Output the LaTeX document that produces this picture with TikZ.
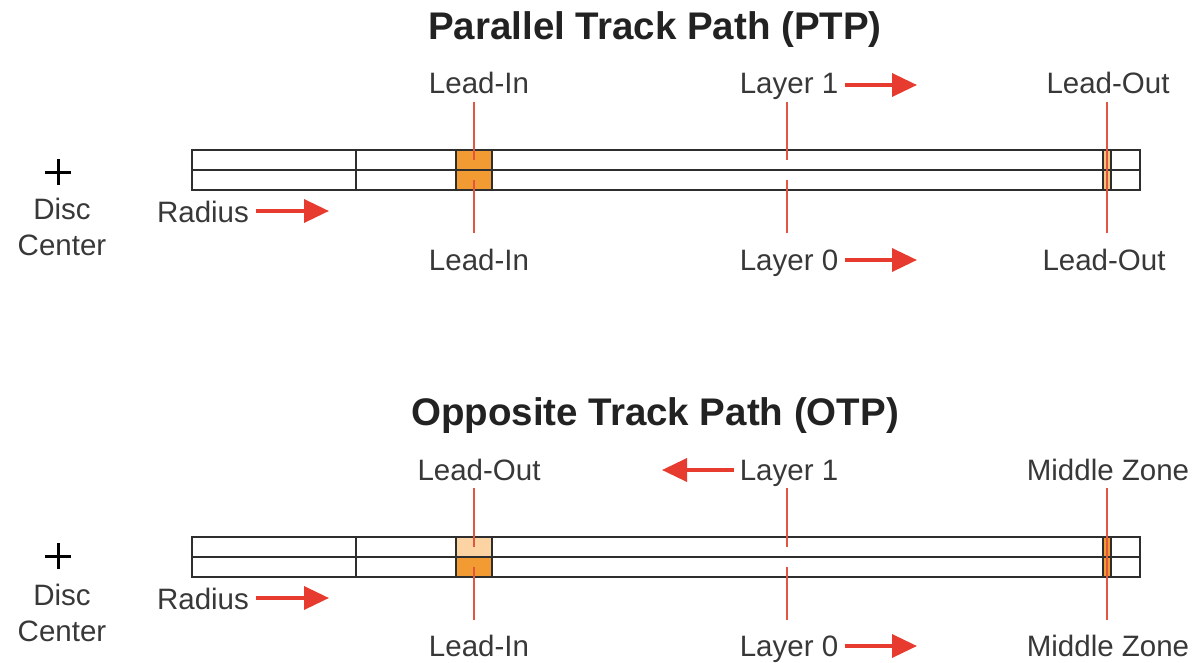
\documentclass[tikz,border=0pt]{standalone}
\usepackage{fontspec}
\setmainfont{Liberation Sans}
\usetikzlibrary{arrows.meta}
\definecolor{txt}{HTML}{383838}
\definecolor{ttl}{HTML}{222222}
\definecolor{barc}{HTML}{2E2E2E}
\definecolor{redl}{HTML}{E2553E}
\definecolor{arrc}{HTML}{E63B2E}
\definecolor{orng}{HTML}{F39B33}
\definecolor{lorng}{HTML}{FCD3A2}
\definecolor{yorng}{HTML}{F7C37A}
\tikzset{
  lbl/.style={inner sep=0pt, anchor=base, text=txt, font=\fontsize{29.5}{32}\selectfont},
  ttlstyle/.style={inner sep=0pt, anchor=base, text=ttl, font=\fontsize{38.5}{42}\selectfont\bfseries},
  barline/.style={draw=barc, line width=2.2pt},
  redline/.style={draw=redl, line width=1.9pt},
  arr/.style={draw=arrc, line width=3.6pt, -{Triangle[length=25pt,width=23pt]}},
  plus/.style={draw=black, line width=3pt},
}
\begin{document}
\begin{tikzpicture}[x=1pt,y=-1pt]
\useasboundingbox (0,0) rectangle (1197,662);

% ---------------- PTP ----------------
\node[ttlstyle] (t1) at (655,39) {Parallel Track Path (PTP)};

% fills
\fill[orng] (456,150) rectangle (492,190);
\fill[yorng] (1103,150) rectangle (1111,190);
% bar
\draw[barline] (192,150) rectangle (1140,190);
\draw[barline] (192,170) -- (1140,170);
\draw[barline] (356,150) -- (356,190);
\draw[barline] (456,150) -- (456,190);
\draw[barline] (492,150) -- (492,190);
\draw[barline] (1103,150) -- (1103,190);
\draw[barline] (1111,150) -- (1111,190);

% labels
\node[lbl] (p_li_t) at (479,93) {Lead-In};
\node[lbl] (p_l1) at (789,93) {Layer 1};
\node[lbl] (p_lo_t) at (1108,93) {Lead-Out};
\node[lbl] (p_li_b) at (479,270) {Lead-In};
\node[lbl] (p_l0) at (789,270) {Layer 0};
\node[lbl] (p_lo_b) at (1104,270) {Lead-Out};

% red lines
\coordinate (pa1) at (474,102); \coordinate (pa2) at (474,160);
\coordinate (pa3) at (474,180); \coordinate (pa4) at (474,233);
\coordinate (pb1) at (787,102); \coordinate (pb2) at (787,160);
\coordinate (pb3) at (787,180); \coordinate (pb4) at (787,233);
\coordinate (pc1) at (1107,102); \coordinate (pc4) at (1107,233);
\draw[redline] (pa1) -- (pa2);
\draw[redline] (pa3) -- (pa4);
\draw[redline] (pb1) -- (pb2);
\draw[redline] (pb3) -- (pb4);
\draw[redline] (pc1) -- (pc4);

% arrows
\coordinate (pr1) at (845,85); \coordinate (pr2) at (917,85);
\coordinate (pr3) at (845,260); \coordinate (pr4) at (917,260);
\coordinate (pr5) at (256,211); \coordinate (pr6) at (329,211);
\draw[arr] (pr1) -- (pr2);
\draw[arr] (pr3) -- (pr4);
\draw[arr] (pr5) -- (pr6);

% disc center
\coordinate (pp) at (58,172);
\draw[plus] ([xshift=-13pt]pp) -- ([xshift=13pt]pp);
\draw[plus] ([yshift=-13pt]pp) -- ([yshift=13pt]pp);
\node[lbl] (p_disc) at (62,219) {Disc};
\node[lbl] (p_cen) at (62,255) {Center};
\node[lbl] (p_rad) at (203,222) {Radius};

% ---------------- OTP ----------------
\node[ttlstyle] (t2) at (655,425) {Opposite Track Path (OTP)};

\fill[lorng] (456,537) rectangle (492,557);
\fill[orng] (456,557) rectangle (492,577);
\fill[orng] (1103,537) rectangle (1111,577);
\draw[barline] (192,537) rectangle (1140,577);
\draw[barline] (192,557) -- (1140,557);
\draw[barline] (356,537) -- (356,577);
\draw[barline] (456,537) -- (456,577);
\draw[barline] (492,537) -- (492,577);
\draw[barline] (1103,537) -- (1103,577);
\draw[barline] (1111,537) -- (1111,577);

\node[lbl] (o_lo_t) at (479,480) {Lead-Out};
\node[lbl] (o_l1) at (789,480) {Layer 1};
\node[lbl] (o_mz_t) at (1108,480) {Middle Zone};
\node[lbl] (o_li_b) at (479,656) {Lead-In};
\node[lbl] (o_l0) at (789,656) {Layer 0};
\node[lbl] (o_mz_b) at (1108,656) {Middle Zone};

\coordinate (oa1) at (474,488); \coordinate (oa2) at (474,547);
\coordinate (oa3) at (474,567); \coordinate (oa4) at (474,620);
\coordinate (ob1) at (787,488); \coordinate (ob2) at (787,547);
\coordinate (ob3) at (787,567); \coordinate (ob4) at (787,620);
\coordinate (oc1) at (1107,488); \coordinate (oc4) at (1107,620);
\draw[redline] (oa1) -- (oa2);
\draw[redline] (oa3) -- (oa4);
\draw[redline] (ob1) -- (ob2);
\draw[redline] (ob3) -- (ob4);
\draw[redline] (oc1) -- (oc4);

\coordinate (or1) at (734,470); \coordinate (or2) at (662,470);
\coordinate (or3) at (845,646); \coordinate (or4) at (917,646);
\coordinate (or5) at (256,598); \coordinate (or6) at (329,598);
\draw[arr] (or1) -- (or2);
\draw[arr] (or3) -- (or4);
\draw[arr] (or5) -- (or6);

\coordinate (op) at (58,556);
\draw[plus] ([xshift=-13pt]op) -- ([xshift=13pt]op);
\draw[plus] ([yshift=-13pt]op) -- ([yshift=13pt]op);
\node[lbl] (o_disc) at (62,605) {Disc};
\node[lbl] (o_cen) at (62,641) {Center};
\node[lbl] (o_rad) at (203,609) {Radius};
\end{tikzpicture}
\end{document}
